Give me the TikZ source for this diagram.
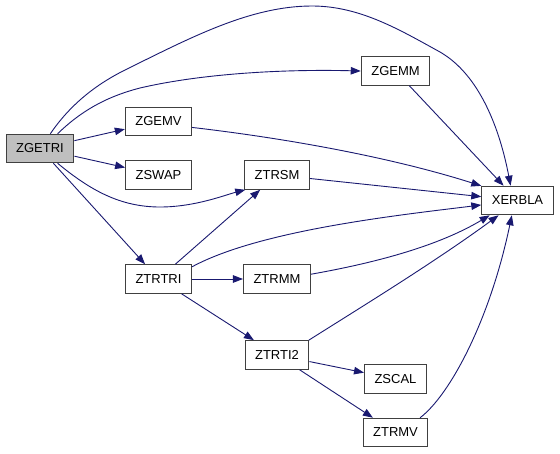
\documentclass[tikz,border=0pt]{standalone}
\usepackage{fontspec}
\setmainfont{Liberation Sans}
\usetikzlibrary{arrows.meta}
\definecolor{edgeblue}{HTML}{191970}
\definecolor{callergray}{HTML}{BFBFBF}
\tikzset{
  fn/.style={rectangle, draw=black!75, line width=1.1pt, fill=#1,
             font=\fontsize{13}{15}\selectfont, minimum height=28.5pt,
             inner xsep=10pt, inner ysep=0pt},
  fn/.default=white,
  arr/.style={-{Triangle[length=10pt,width=7.5pt]}, line width=0.9pt, edgeblue},
}
\begin{document}
\begin{tikzpicture}[x=1pt, y=-1pt]
  \useasboundingbox (0,0) rectangle (560,453);
  %% routines
  \node[fn=callergray] (zgetri) at (40,148.5)  {ZGETRI};
  \node[fn]            (zgemm)  at (395.5,71)  {ZGEMM};
  \node[fn]            (zgemv)  at (158.5,121.5) {ZGEMV};
  \node[fn]            (zswap)  at (158.5,175) {ZSWAP};
  \node[fn]            (ztrsm)  at (277,175)   {ZTRSM};
  \node[fn]            (xerbla) at (517.5,200.5) {XERBLA};
  \node[fn]            (ztrtri) at (158.5,279) {ZTRTRI};
  \node[fn]            (ztrmm)  at (277,279)   {ZTRMM};
  \node[fn]            (ztrti2) at (277,355)   {ZTRTI2};
  \node[fn]            (zscal)  at (395.5,379) {ZSCAL};
  \node[fn]            (ztrmv)  at (395.5,432.5) {ZTRMV};
  %% straight calls
  \foreach \a/\b in {zgetri/zgemv,zgetri/zswap,zgetri/ztrtri,zgemm/xerbla,
                     ztrsm/xerbla,ztrtri/ztrsm,ztrtri/ztrmm,ztrtri/ztrti2,
                     ztrti2/zscal,ztrti2/ztrmv}
    \draw[arr] (\a) -- (\b);
  %% curved calls
  \draw[arr] (zgetri.55) .. controls (70,105) and (95,85) .. (125,70)
    .. controls (190,38) and (250,6) .. (312,6)
    .. controls (360,6) and (400,30) .. (440,52)
    .. controls (480,75) and (500,130) .. (xerbla.115);
  \draw[arr] (zgetri.40) .. controls (80,112) and (105,97) .. (140,88)
    .. controls (200,74) and (280,69) .. (zgemm.west);
  \draw[arr] (zgetri.-40) .. controls (90,190) and (120,207) .. (160,207)
    .. controls (195,207) and (225,195) .. (ztrsm.205);
  \draw[arr] (zgemv.-10) .. controls (300,140) and (400,160) .. (xerbla.158);
  \draw[arr] (ztrtri.20) .. controls (260,230) and (400,215) .. (xerbla.187);
  \draw[arr] (ztrmm.8) .. controls (380,262) and (440,245) .. (xerbla.208);
  \draw[arr] (ztrti2.25) .. controls (371,301) and (436,261) .. (xerbla.218);
  \draw[arr] (ztrmv.31) .. controls (450,395) and (490,320) .. (xerbla.249);
\end{tikzpicture}
\end{document}
